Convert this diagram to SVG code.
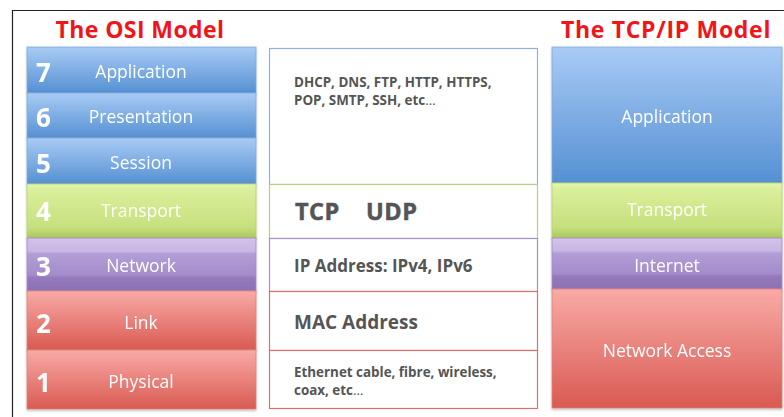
<svg xmlns="http://www.w3.org/2000/svg" width="784" height="417" viewBox="0 0 784 417">
  <defs>
    <linearGradient id="gBlue" x1="0" y1="0" x2="0" y2="1">
      <stop offset="0" stop-color="#a9cbf5"/>
      <stop offset="1" stop-color="#5590d3"/>
    </linearGradient>
    <linearGradient id="gGreen" x1="0" y1="0" x2="0" y2="1">
      <stop offset="0" stop-color="#e3f6ab"/>
      <stop offset="0.12" stop-color="#d9ef9a"/>
      <stop offset="0.8" stop-color="#c6e07e"/>
      <stop offset="1" stop-color="#a9c85c"/>
    </linearGradient>
    <linearGradient id="gPurple" x1="0" y1="0" x2="0" y2="1">
      <stop offset="0" stop-color="#d2c2ec"/>
      <stop offset="0.25" stop-color="#c8b6e4"/>
      <stop offset="0.3" stop-color="#b29ed6"/>
      <stop offset="0.7" stop-color="#a48ccb"/>
      <stop offset="0.75" stop-color="#9479bc"/>
      <stop offset="1" stop-color="#8c70b4"/>
    </linearGradient>
    <linearGradient id="gRed" x1="0" y1="0" x2="0" y2="1">
      <stop offset="0" stop-color="#f9aaa6"/>
      <stop offset="1" stop-color="#d95a52"/>
    </linearGradient>
    <filter id="shadow" x="-5%" y="-5%" width="110%" height="115%">
      <feDropShadow dx="0" dy="1.5" stdDeviation="1.2" flood-color="#000" flood-opacity="0.25"/>
    </filter>
  </defs>
  <style>
    .title { font-family: "Open Sans", "Liberation Sans", sans-serif; font-weight: bold; font-size: 23px; fill: #f0141b; text-anchor: middle; }
    .num { font-family: "Open Sans", "Liberation Sans", sans-serif; font-weight: bold; font-size: 26px; fill: #ffffff; }
    .lbl { font-family: "Open Sans", "Liberation Sans", sans-serif; font-size: 17.5px; fill: #ffffff; text-anchor: middle; }
    .mid { font-family: "Open Sans", "Liberation Sans", sans-serif; font-weight: bold; fill: #555555; }
    .big { font-size: 23.5px; letter-spacing: 0.5px; stroke: #555555; stroke-width: 0.5; }
    .box { fill: #ffffff; stroke-width: 1.2; }
  </style>

  <rect x="0" y="0" width="784" height="417" fill="#ffffff"/>
  <!-- frame -->
  <path d="M12.5 417 V10.5 H784" fill="none" stroke="#222" stroke-width="1.2"/>

  <!-- titles -->
  <text class="title" x="140" y="38" letter-spacing="0.4">The OSI Model</text>
  <text class="title" x="666" y="38" letter-spacing="0.7">The TCP/IP Model</text>

  <!-- OSI layers -->
  <g id="osi-7" filter="url(#shadow)">
    <rect x="27" y="47" width="229" height="46" fill="url(#gBlue)" stroke="#7fa9dc" stroke-width="0.8"/>
    <text class="num" x="36" y="82">7</text>
    <text class="lbl" x="141" y="78">Application</text>
  </g>
  <g id="osi-6" filter="url(#shadow)">
    <rect x="27" y="93" width="229" height="45" fill="url(#gBlue)" stroke="#7fa9dc" stroke-width="0.8"/>
    <text class="num" x="36" y="127">6</text>
    <text class="lbl" x="141" y="123">Presentation</text>
  </g>
  <g id="osi-5" filter="url(#shadow)">
    <rect x="27" y="138" width="229" height="46" fill="url(#gBlue)" stroke="#7fa9dc" stroke-width="0.8"/>
    <text class="num" x="36" y="173">5</text>
    <text class="lbl" x="141" y="169">Session</text>
  </g>
  <g id="osi-4" filter="url(#shadow)">
    <rect x="27" y="184" width="229" height="54" fill="url(#gGreen)" stroke="#b6d06e" stroke-width="0.8"/>
    <text class="num" x="36" y="221">4</text>
    <text class="lbl" x="141" y="217">Transport</text>
  </g>
  <g id="osi-3" filter="url(#shadow)">
    <rect x="27" y="238" width="229" height="53" fill="url(#gPurple)" stroke="#a28cc8" stroke-width="0.8"/>
    <text class="num" x="36" y="276">3</text>
    <text class="lbl" x="141" y="272">Network</text>
  </g>
  <g id="osi-2" filter="url(#shadow)">
    <rect x="27" y="291" width="229" height="59" fill="url(#gRed)" stroke="#e07f78" stroke-width="0.8"/>
    <text class="num" x="36" y="333">2</text>
    <text class="lbl" x="141" y="329">Link</text>
  </g>
  <g id="osi-1" filter="url(#shadow)">
    <rect x="27" y="350" width="229" height="59" fill="url(#gRed)" stroke="#e07f78" stroke-width="0.8"/>
    <text class="num" x="36" y="392">1</text>
    <text class="lbl" x="141" y="388">Physical</text>
  </g>

  <!-- protocol examples -->
  <g id="proto-app">
    <rect class="box" x="269.5" y="48.5" width="268" height="136" stroke="#8fb2dd"/>
    <text class="mid" font-size="13.4" x="294" y="87">DHCP, DNS, FTP, HTTP, HTTPS,</text>
    <text class="mid" font-size="13.4" x="294" y="105">POP, SMTP, SSH, etc<tspan font-weight="normal">…</tspan></text>
  </g>
  <g id="proto-transport">
    <rect class="box" x="269.5" y="184.5" width="268" height="54" stroke="#b5d07a"/>
    <text class="mid big" x="295" y="220">TCP</text>
    <text class="mid big" x="366" y="220">UDP</text>
  </g>
  <g id="proto-network">
    <rect class="box" x="269.5" y="238.5" width="268" height="53" stroke="#a690cc"/>
    <text class="mid" font-size="17" x="294" y="272">IP Address: IPv4, IPv6</text>
  </g>
  <g id="proto-link">
    <rect class="box" x="269.5" y="291.5" width="268" height="59" stroke="#d9706a"/>
    <text class="mid" font-size="19" x="294" y="329">MAC Address</text>
  </g>
  <g id="proto-physical">
    <rect class="box" x="269.5" y="350.5" width="268" height="58" stroke="#d9706a"/>
    <text class="mid" font-size="13.4" x="294" y="377">Ethernet cable, fibre, wireless,</text>
    <text class="mid" font-size="13.4" x="294" y="395">coax, etc<tspan font-weight="normal">…</tspan></text>
  </g>

  <!-- TCP/IP layers -->
  <g id="tcpip-app" filter="url(#shadow)">
    <rect x="552" y="47" width="230" height="136" fill="url(#gBlue)" stroke="#7fa9dc" stroke-width="0.8"/>
    <text class="lbl" x="667" y="123">Application</text>
  </g>
  <g id="tcpip-transport" filter="url(#shadow)">
    <rect x="552" y="183" width="230" height="55" fill="url(#gGreen)" stroke="#b6d06e" stroke-width="0.8"/>
    <text class="lbl" x="667" y="216">Transport</text>
  </g>
  <g id="tcpip-internet" filter="url(#shadow)">
    <rect x="552" y="238" width="230" height="51" fill="url(#gPurple)" stroke="#a28cc8" stroke-width="0.8"/>
    <text class="lbl" x="667" y="272">Internet</text>
  </g>
  <g id="tcpip-access" filter="url(#shadow)">
    <rect x="552" y="289" width="230" height="119" fill="url(#gRed)" stroke="#e07f78" stroke-width="0.8"/>
    <text class="lbl" x="667" y="357">Network Access</text>
  </g>
</svg>
